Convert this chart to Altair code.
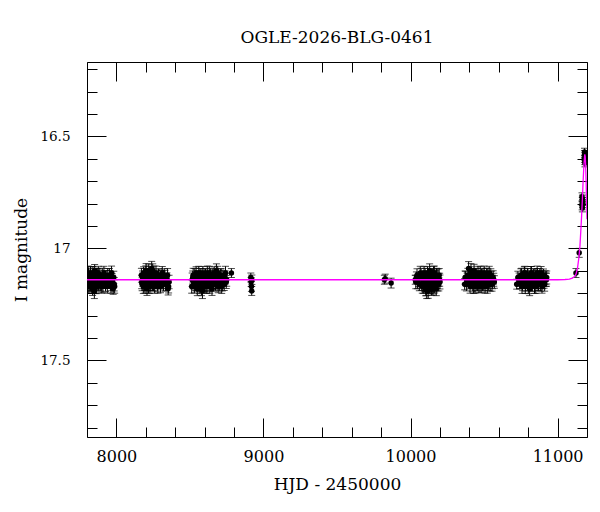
import altair as alt
import pandas as pd

TITLE = "OGLE-2026-BLG-0461"
X_TITLE = "HJD - 2450000"
Y_TITLE = "I magnitude"

# ---- observations (HJD - 2450000, I mag, error) per season ----
t1 = [7802, 7806, 7810, 7813, 7817, 7820, 7824, 7827, 7831, 7834, 7838, 7842, 7846, 7850, 7854, 7858, 7862, 7866,
      7870, 7874, 7879, 7884, 7890, 7897, 7904, 7911, 7918, 7926, 7934, 7941, 7949, 7956, 7963, 7970, 7978, 7985]
m1 = [17.13, 17.15, 17.12, 17.17, 17.14, 17.16, 17.11, 17.15, 17.16, 17.13, 17.18, 17.14, 17.12, 17.19, 17.15, 17.13,
      17.17, 17.14, 17.12, 17.15, 17.16, 17.13, 17.14, 17.17, 17.12, 17.15, 17.13, 17.16, 17.14, 17.12, 17.15, 17.13,
      17.17, 17.14, 17.18, 17.16]
e1 = [0.030, 0.028, 0.032, 0.030, 0.027, 0.031, 0.029, 0.030, 0.030, 0.028, 0.030, 0.030, 0.031, 0.034, 0.027, 0.030,
      0.032, 0.028, 0.030, 0.031, 0.029, 0.030, 0.028, 0.030, 0.031, 0.029, 0.030, 0.032, 0.028, 0.030, 0.029, 0.031,
      0.030, 0.028, 0.025, 0.030]
t1b = [7804, 7808, 7815, 7822, 7829, 7836, 7840, 7844, 7848, 7852, 7856, 7860, 7864, 7868, 7872, 7877, 7882, 7887,
       7894, 7901, 7908, 7915, 7922, 7930, 7938, 7945, 7952, 7960, 7967, 7974, 7982, 7988]
m1b = [17.16, 17.11, 17.14, 17.12, 17.17, 17.15, 17.11, 17.16, 17.13, 17.10, 17.15, 17.17, 17.12, 17.16, 17.14, 17.11,
       17.15, 17.12, 17.16, 17.14, 17.17, 17.11, 17.15, 17.13, 17.17, 17.14, 17.12, 17.16, 17.11, 17.15, 17.13, 17.17]
e1b = [0.029, 0.031, 0.030, 0.028, 0.030, 0.032, 0.029, 0.030, 0.031, 0.028, 0.030, 0.029, 0.031, 0.030, 0.028, 0.030,
       0.032, 0.029, 0.030, 0.031, 0.028, 0.030, 0.029, 0.031, 0.030, 0.028, 0.030, 0.029, 0.031, 0.030, 0.028, 0.030]

t2 = [8172, 8178, 8183, 8188, 8192, 8196, 8200, 8204, 8208, 8212, 8216, 8220, 8224, 8228, 8232, 8236, 8240, 8245,
      8250, 8255, 8260, 8266, 8272, 8279, 8286, 8293, 8300, 8308, 8316, 8325, 8334, 8343, 8352, 8358]
m2 = [17.15, 17.13, 17.17, 17.12, 17.16, 17.14, 17.11, 17.15, 17.18, 17.13, 17.16, 17.10, 17.14, 17.17, 17.12, 17.15,
      17.09, 17.16, 17.14, 17.11, 17.17, 17.15, 17.13, 17.16, 17.12, 17.14, 17.17, 17.13, 17.15, 17.12, 17.16, 17.14,
      17.18, 17.15]
e2 = [0.030, 0.029, 0.031, 0.030, 0.028, 0.030, 0.032, 0.029, 0.030, 0.031, 0.028, 0.030, 0.029, 0.031, 0.030, 0.028,
      0.032, 0.030, 0.029, 0.031, 0.030, 0.028, 0.030, 0.031, 0.029, 0.030, 0.028, 0.031, 0.030, 0.029, 0.030, 0.031,
      0.028, 0.030]
t2b = [8170, 8175, 8180, 8185, 8190, 8194, 8198, 8202, 8206, 8210, 8214, 8218, 8222, 8226, 8230, 8234, 8238, 8242,
       8247, 8252, 8257, 8263, 8269, 8275, 8282, 8289, 8296, 8304, 8312, 8320, 8330, 8339, 8348, 8355]
m2b = [17.12, 17.16, 17.14, 17.11, 17.15, 17.17, 17.13, 17.10, 17.16, 17.14, 17.12, 17.17, 17.11, 17.15, 17.13, 17.16,
       17.12, 17.14, 17.10, 17.16, 17.13, 17.15, 17.11, 17.14, 17.17, 17.12, 17.15, 17.13, 17.11, 17.16, 17.13, 17.15,
       17.12, 17.17]
e2b = [0.031, 0.029, 0.030, 0.028, 0.031, 0.030, 0.029, 0.032, 0.030, 0.028, 0.031, 0.030, 0.029, 0.030, 0.031, 0.028,
       0.030, 0.029, 0.031, 0.030, 0.028, 0.030, 0.031, 0.029, 0.030, 0.028, 0.031, 0.030, 0.029, 0.030, 0.031, 0.028,
       0.030, 0.029]

t3 = [8512, 8519, 8526, 8533, 8539, 8545, 8550, 8555, 8560, 8565, 8570, 8575, 8580, 8585, 8590, 8595, 8600, 8605,
      8610, 8615, 8620, 8626, 8632, 8638, 8644, 8650, 8656, 8662, 8668, 8674, 8680, 8686, 8692, 8698, 8705, 8712,
      8720, 8728, 8738, 8747, 8782]
m3 = [17.17, 17.13, 17.15, 17.12, 17.16, 17.14, 17.18, 17.13, 17.11, 17.16, 17.14, 17.12, 17.17, 17.19, 17.15, 17.13,
      17.16, 17.12, 17.14, 17.17, 17.13, 17.15, 17.11, 17.16, 17.14, 17.18, 17.12, 17.15, 17.13, 17.16, 17.10, 17.14,
      17.17, 17.13, 17.15, 17.12, 17.16, 17.14, 17.13, 17.15, 17.11]
e3 = [0.030, 0.029, 0.031, 0.030, 0.028, 0.030, 0.031, 0.029, 0.030, 0.031, 0.028, 0.030, 0.029, 0.034, 0.030, 0.028,
      0.031, 0.030, 0.029, 0.031, 0.030, 0.028, 0.030, 0.031, 0.029, 0.030, 0.028, 0.031, 0.030, 0.029, 0.031, 0.030,
      0.028, 0.030, 0.031, 0.029, 0.030, 0.028, 0.030, 0.029, 0.020]
t3b = [8515, 8522, 8530, 8536, 8542, 8548, 8553, 8558, 8563, 8568, 8573, 8578, 8583, 8588, 8593, 8598, 8603, 8608,
       8613, 8618, 8623, 8629, 8635, 8641, 8647, 8653, 8659, 8665, 8671, 8677, 8683, 8689, 8695, 8702, 8709, 8716,
       8724, 8733, 8742, 8750]
m3b = [17.14, 17.12, 17.17, 17.15, 17.11, 17.16, 17.13, 17.15, 17.17, 17.12, 17.15, 17.18, 17.13, 17.11, 17.16, 17.14,
       17.12, 17.17, 17.15, 17.11, 17.16, 17.13, 17.17, 17.12, 17.15, 17.13, 17.16, 17.11, 17.14, 17.12, 17.15, 17.11,
       17.14, 17.16, 17.12, 17.17, 17.13, 17.16, 17.11, 17.14]
e3b = [0.030, 0.031, 0.029, 0.030, 0.028, 0.031, 0.030, 0.029, 0.032, 0.030, 0.028, 0.031, 0.030, 0.029, 0.030, 0.031,
       0.028, 0.030, 0.029, 0.031, 0.030, 0.028, 0.030, 0.031, 0.029, 0.030, 0.031, 0.028, 0.030, 0.029, 0.031, 0.030,
       0.028, 0.030, 0.029, 0.031, 0.030, 0.028, 0.030, 0.029]

t4 = [8914, 8916, 8918, 8920, 8921, 9822, 9828, 9868]
m4 = [17.13, 17.15, 17.17, 17.19, 17.14, 17.14, 17.135, 17.155]
e4 = [0.020, 0.020, 0.022, 0.020, 0.021, 0.020, 0.020, 0.022]

t6 = [10032, 10040, 10048, 10060, 10072, 10080, 10086, 10092, 10097, 10102, 10106, 10110, 10114, 10118, 10122, 10126,
      10130, 10134, 10138, 10142, 10146, 10150, 10154, 10158, 10162, 10166, 10170, 10175, 10180, 10186, 10192, 10198]
m6 = [17.14, 17.13, 17.15, 17.16, 17.12, 17.17, 17.14, 17.11, 17.16, 17.13, 17.18, 17.19, 17.15, 17.12, 17.17, 17.14,
      17.10, 17.16, 17.13, 17.18, 17.15, 17.12, 17.17, 17.14, 17.11, 17.16, 17.13, 17.18, 17.15, 17.12, 17.16, 17.14]
e6 = [0.020, 0.025, 0.030, 0.029, 0.031, 0.030, 0.028, 0.030, 0.031, 0.029, 0.030, 0.034, 0.028, 0.031, 0.030, 0.029,
      0.031, 0.030, 0.028, 0.030, 0.031, 0.029, 0.030, 0.028, 0.031, 0.030, 0.029, 0.031, 0.030, 0.028, 0.030, 0.029]
t6b = [10036, 10044, 10055, 10066, 10076, 10083, 10089, 10094, 10099, 10104, 10108, 10112, 10116, 10120, 10124, 10128,
       10132, 10136, 10140, 10144, 10148, 10152, 10156, 10160, 10164, 10168, 10172, 10177, 10183, 10189, 10195, 10200]
m6b = [17.15, 17.12, 17.14, 17.11, 17.16, 17.13, 17.17, 17.15, 17.12, 17.18, 17.14, 17.16, 17.11, 17.19, 17.13, 17.15,
       17.17, 17.12, 17.14, 17.16, 17.13, 17.18, 17.11, 17.15, 17.17, 17.13, 17.15, 17.12, 17.16, 17.14, 17.12, 17.15]
e6b = [0.030, 0.029, 0.031, 0.030, 0.028, 0.030, 0.031, 0.029, 0.030, 0.032, 0.028, 0.030, 0.029, 0.033, 0.030, 0.028,
       0.031, 0.030, 0.029, 0.031, 0.030, 0.028, 0.030, 0.031, 0.029, 0.030, 0.028, 0.031, 0.030, 0.029, 0.030, 0.031]

t7 = [10368, 10375, 10385, 10395, 10402, 10408, 10414, 10420, 10426, 10432, 10438, 10444, 10450, 10456, 10462, 10468,
      10474, 10480, 10486, 10492, 10498, 10504, 10510, 10516, 10522, 10528, 10535, 10542, 10550, 10558, 10566]
m7 = [17.16, 17.13, 17.14, 17.09, 17.12, 17.15, 17.11, 17.16, 17.13, 17.10, 17.17, 17.14, 17.12, 17.16, 17.13, 17.15,
      17.11, 17.17, 17.14, 17.12, 17.16, 17.13, 17.15, 17.12, 17.17, 17.14, 17.11, 17.16, 17.13, 17.15, 17.14]
e7 = [0.025, 0.028, 0.030, 0.031, 0.029, 0.030, 0.028, 0.031, 0.030, 0.029, 0.030, 0.028, 0.031, 0.030, 0.029, 0.031,
      0.030, 0.028, 0.030, 0.031, 0.029, 0.030, 0.028, 0.031, 0.030, 0.029, 0.030, 0.031, 0.028, 0.030, 0.029]
t7b = [10371, 10380, 10390, 10398, 10405, 10411, 10417, 10423, 10429, 10435, 10441, 10447, 10453, 10459, 10465, 10471,
       10477, 10483, 10489, 10495, 10501, 10507, 10513, 10519, 10525, 10531, 10538, 10546, 10554, 10562, 10570]
m7b = [17.13, 17.16, 17.12, 17.14, 17.17, 17.10, 17.14, 17.12, 17.17, 17.15, 17.12, 17.16, 17.14, 17.11, 17.17, 17.13,
       17.15, 17.12, 17.16, 17.14, 17.11, 17.17, 17.13, 17.15, 17.12, 17.16, 17.14, 17.12, 17.16, 17.13, 17.15]
e7b = [0.029, 0.030, 0.031, 0.028, 0.030, 0.032, 0.029, 0.030, 0.031, 0.028, 0.030, 0.029, 0.031, 0.030, 0.028, 0.030,
       0.031, 0.029, 0.030, 0.028, 0.031, 0.030, 0.029, 0.030, 0.031, 0.028, 0.030, 0.029, 0.031, 0.030, 0.028]

t8 = [10722, 10730, 10745, 10755, 10762, 10768, 10774, 10780, 10786, 10792, 10798, 10804, 10810, 10816, 10822, 10828,
      10834, 10840, 10846, 10852, 10858, 10864, 10870, 10876, 10882, 10888, 10894, 10900, 10908, 10916, 10924]
m8 = [17.16, 17.13, 17.15, 17.12, 17.16, 17.14, 17.11, 17.17, 17.13, 17.15, 17.12, 17.16, 17.18, 17.14, 17.11, 17.16,
      17.13, 17.15, 17.12, 17.17, 17.14, 17.12, 17.16, 17.13, 17.15, 17.11, 17.17, 17.14, 17.15, 17.13, 17.14]
e8 = [0.022, 0.028, 0.030, 0.031, 0.029, 0.030, 0.028, 0.031, 0.030, 0.029, 0.030, 0.028, 0.031, 0.030, 0.029, 0.031,
      0.030, 0.028, 0.030, 0.031, 0.029, 0.030, 0.028, 0.031, 0.030, 0.029, 0.030, 0.031, 0.028, 0.030, 0.029]
t8b = [10738, 10750, 10758, 10765, 10771, 10777, 10783, 10789, 10795, 10801, 10807, 10813, 10819, 10825, 10831, 10837,
       10843, 10849, 10855, 10861, 10867, 10873, 10879, 10885, 10891, 10897, 10904, 10912, 10920, 10926, 10742]
m8b = [17.14, 17.12, 17.17, 17.13, 17.15, 17.11, 17.16, 17.14, 17.12, 17.17, 17.13, 17.15, 17.11, 17.16, 17.14, 17.12,
       17.17, 17.13, 17.15, 17.11, 17.16, 17.14, 17.12, 17.16, 17.13, 17.15, 17.12, 17.16, 17.14, 17.13, 17.15]
e8b = [0.030, 0.029, 0.031, 0.030, 0.028, 0.030, 0.031, 0.029, 0.030, 0.032, 0.028, 0.030, 0.029, 0.031, 0.030, 0.028,
       0.031, 0.030, 0.029, 0.031, 0.030, 0.028, 0.030, 0.031, 0.029, 0.030, 0.028, 0.031, 0.030, 0.029, 0.030]

tp = [11125, 11147, 11166, 11167, 11168, 11168.5, 11169, 11170, 11171,
      11183, 11184, 11184.5, 11185, 11185.5, 11186, 11187, 11188]
mp = [17.11, 17.02, 16.77, 16.81, 16.79, 16.82, 16.78, 16.80, 16.79,
      16.57, 16.60, 16.58, 16.61, 16.59, 16.62, 16.58, 16.60]
ep = [0.020, 0.020, 0.018, 0.018, 0.018, 0.017, 0.018, 0.018, 0.017,
      0.017, 0.016, 0.017, 0.016, 0.017, 0.016, 0.017, 0.016]

# ---- model curve ----
tm = [7800, 9000, 10000, 11000, 11050, 11080, 11100, 11115, 11125, 11135, 11145, 11152, 11158, 11163, 11168,
      11173, 11178, 11182, 11185, 11188, 11191, 11194, 11197, 11200]
mm = [17.14, 17.14, 17.14, 17.14, 17.139, 17.137, 17.133, 17.125, 17.115, 17.09, 17.04, 16.99, 16.92, 16.86, 16.79,
      16.71, 16.64, 16.60, 16.58, 16.59, 16.63, 16.70, 16.78, 16.87]

# ---- axis tick values ----
x_major = [8000, 9000, 10000, 11000]
x_minor = [7800, 8200, 8400, 8600, 8800, 9200, 9400, 9600, 9800, 10200, 10400, 10600, 10800, 11200]
y_major = [16.5, 17.0, 17.5]
y_minor = [16.2, 16.3, 16.4, 16.6, 16.7, 16.8, 16.9, 17.1, 17.2, 17.3, 17.4, 17.6, 17.7, 17.8]

T = t1 + t1b + t2 + t2b + t3 + t3b + t4 + t6 + t6b + t7 + t7b + t8 + t8b + tp
M = m1 + m1b + m2 + m2b + m3 + m3b + m4 + m6 + m6b + m7 + m7b + m8 + m8b + mp
E = e1 + e1b + e2 + e2b + e3 + e3b + e4 + e6 + e6b + e7 + e7b + e8 + e8b + ep

obs = pd.DataFrame({"t": T, "m": M, "e": E})
obs["lo"] = obs["m"] - obs["e"]
obs["hi"] = obs["m"] + obs["e"]
model = pd.DataFrame({"t": tm, "m": mm})

FONT = "DejaVu Serif"
xs = alt.Scale(domain=[7800, 11200], nice=False, zero=False)
ys = alt.Scale(domain=[16.168, 17.842], reverse=True, nice=False, zero=False)


def ax(orient, values, size, labels=False, title="", **kw):
    return alt.Axis(orient=orient, values=values, tickSize=size, offset=-size, labels=labels,
                    domain=False, grid=False, ticks=True, tickColor="black", tickWidth=1,
                    title=title, **kw)


ax_bottom = ax("bottom", x_major, 19, labels=True, title=X_TITLE, format="d", labelPadding=11,
               labelFontSize=16, titleFontSize=17, titlePadding=12)
ax_left = ax("left", y_major, 19, labels=True, title=Y_TITLE, format="~g", labelPadding=17,
             labelFontSize=13.5, titleFontSize=17, titlePadding=9)

base = alt.Chart(obs)

bars = base.mark_rule(color="black", strokeWidth=1, clip=True).encode(
    x=alt.X("t:Q", scale=xs, axis=ax_bottom),
    y=alt.Y("lo:Q", scale=ys, axis=ax_left),
    y2="hi:Q",
)
caps_hi = base.mark_tick(color="black", orient="horizontal", size=7, thickness=1, clip=True).encode(
    x=alt.X("t:Q", scale=xs, axis=ax("bottom", x_minor, 10)),
    y=alt.Y("hi:Q", scale=ys, axis=ax("left", y_minor, 10)),
)
caps_lo = base.mark_tick(color="black", orient="horizontal", size=7, thickness=1, clip=True).encode(
    x=alt.X("t:Q", scale=xs, axis=ax("top", x_major, 19)),
    y=alt.Y("lo:Q", scale=ys, axis=ax("right", y_major, 19)),
)
points = base.mark_circle(color="black", size=30, opacity=1, clip=True).encode(
    x=alt.X("t:Q", scale=xs, axis=ax("top", x_minor, 10)),
    y=alt.Y("m:Q", scale=ys, axis=ax("right", y_minor, 10)),
)
line = alt.Chart(model).mark_line(color="#ff00ff", strokeWidth=1.3, clip=True).encode(
    x=alt.X("t:Q", scale=xs, axis=None),
    y=alt.Y("m:Q", scale=ys, axis=None),
)

chart = alt.layer(bars, caps_hi, caps_lo, points, line).resolve_axis(
    x="independent", y="independent"
).properties(
    width=500,
    height=375,
    title=alt.TitleParams(TITLE, font=FONT, fontSize=17, fontWeight="normal", color="black",
                          anchor="middle", offset=2, baseline="alphabetic"),
    autosize=alt.AutoSizeParams(type="none"),
    padding={"left": 79, "top": 54, "right": 5, "bottom": 60},
).configure_axis(
    labelFont=FONT, titleFont=FONT, labelColor="black", titleColor="black",
    titleFontWeight="normal",
).configure_view(
    stroke="black", strokeWidth=1
)

chart.save("out.html", embed_options={"renderer": "svg", "actions": False})
